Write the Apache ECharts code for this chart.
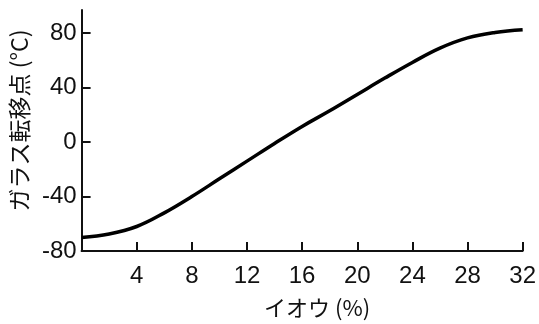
<!DOCTYPE html>
<html>
<head>
<meta charset="utf-8">
<style>
  html, body { margin: 0; padding: 0; background: #fff; }
  #chart { width: 539px; height: 324px; }
</style>
<script src="https://cdn.jsdelivr.net/npm/echarts@6/dist/echarts.min.js"></script>
</head>
<body>
<div id="chart"></div>
<script>
// Sulfur content (%) vs. glass transition temperature (°C)
const sulfurPct = [0, 2, 4, 6, 8, 10, 12, 14, 16, 18, 20, 22, 24, 26, 28, 30, 32];
const glassTempC = [-70, -67.5, -62, -52, -40, -27, -14, -1, 11.5, 23, 35, 47, 58.5, 69, 76.5, 80.5, 82.5];
const xTicks = [4, 8, 12, 16, 20, 24, 28, 32];
const yTicks = [-80, -40, 0, 40, 80];
const xTitle = 'イオウ (%)';
const yTitle = 'ガラス転移点 (°C)';

const labelFont = '"Liberation Sans", "DejaVu Sans", sans-serif';
const cjkFont = '"Noto Sans CJK JP", "Noto Sans", sans-serif';

const chart = echarts.init(document.getElementById('chart'), null, { renderer: 'canvas' });
chart.setOption({
  animation: false,
  backgroundColor: '#fff',
  grid: { left: 77, right: 12, top: 10, bottom: 69, containLabel: false },
  xAxis: {
    type: 'value',
    min: 0,
    max: 32,
    interval: 4,
    name: xTitle,
    nameLocation: 'middle',
    nameGap: 46,
    nameTextStyle: { fontFamily: cjkFont, fontSize: 22, color: '#111', padding: [0, 0, 0, 30] },
    axisLine: { show: true, onZero: false, lineStyle: { color: '#111', width: 2 } },
    axisTick: { show: true, inside: true, length: 9, lineStyle: { color: '#111', width: 2 }, customValues: xTicks },
    axisLabel: { fontFamily: labelFont, fontSize: 24, color: '#111', margin: 13, customValues: xTicks },
    splitLine: { show: false }
  },
  yAxis: {
    type: 'value',
    min: -80,
    max: 97,
    name: yTitle,
    nameLocation: 'middle',
    nameRotate: 90,
    nameGap: 46,
    nameTextStyle: { fontFamily: cjkFont, fontSize: 23, color: '#111', padding: [0, 0, 0, 20] },
    axisLine: { show: true, onZero: false, lineStyle: { color: '#111', width: 2 } },
    axisTick: { show: true, inside: true, length: 9, lineStyle: { color: '#111', width: 2 }, customValues: yTicks },
    axisLabel: { fontFamily: labelFont, fontSize: 24, color: '#111', margin: 5, customValues: yTicks },
    splitLine: { show: false }
  },
  series: [{
    type: 'line',
    data: sulfurPct.map((x, i) => [x, glassTempC[i]]),
    smooth: 0.4,
    showSymbol: false,
    lineStyle: { color: '#000', width: 3.5 }
  }]
});
</script>
</body>
</html>
